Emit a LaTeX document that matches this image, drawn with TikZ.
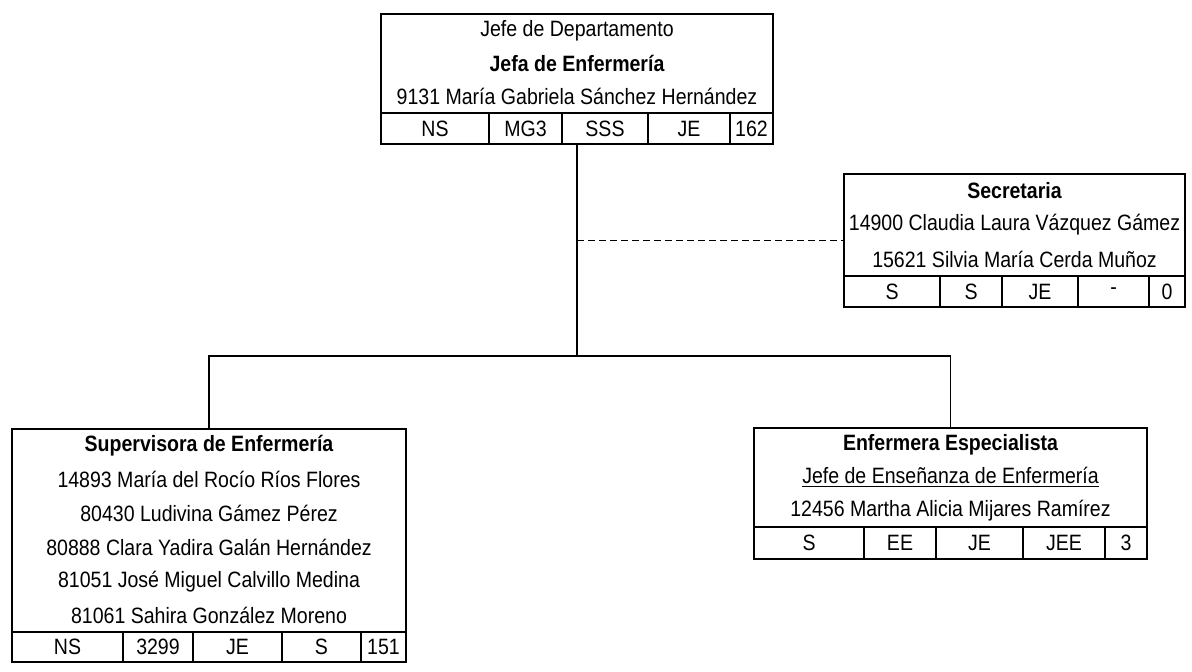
\documentclass[tikz,border=0pt]{standalone}
\usepackage{fontspec}
\setmainfont{Liberation Sans}[FakeStretch=0.88]
\usetikzlibrary{fit}
\tikzset{
  frame/.style={draw,line width=1pt,inner sep=0pt},
  rule/.style={line width=1pt},
  link/.style={line width=.9pt},
  staff/.style={link,dash pattern=on 3.5pt off 2pt},
}
\begin{document}
\begin{tikzpicture}[font=\fontsize{11.1}{13}\selectfont,x=.5pt,y=-.5pt]
\useasboundingbox (0,0) rectangle (1192,671);
% Jefa de Enfermeria
\node[frame,fit={(381,14) (773,144)}] (jefa) {};
\draw[rule] (381,113)--(773,113) (489,113)--(489,144) (562,113)--(562,144)
  (648,113)--(648,144) (730,113)--(730,144);
\node at (577,30.5) (jefa1) {Jefe de Departamento};
\node at (577,63.5) (jefa2) {\bfseries Jefa de Enfermería};
\node at (577,96.5) (jefa3) {9131 María Gabriela Sánchez Hernández};
\node at (435,128.5) (jefac1) {NS};\node at (525.5,128.5) (jefac2) {MG3};
\node at (605,128.5) (jefac3) {SSS};\node at (689,128.5) (jefac4) {JE};
\node at (751.5,128.5) (jefac5) {162};
% Secretaria
\node[frame,fit={(844,174) (1185,307)}] (secr) {};
\draw[rule] (844,276)--(1185,276) (940,276)--(940,307) (1002,276)--(1002,307)
  (1078,276)--(1078,307) (1149,276)--(1149,307);
\node at (1014.5,191) (secr1) {\bfseries Secretaria};
\node at (1014.5,225) (secr2) {14900 Claudia Laura Vázquez Gámez};
\node at (1014.5,259) (secr3) {15621 Silvia María Cerda Muñoz};
\node at (892,291.5) (secrc1) {S};\node at (971,291.5) (secrc2) {S};
\node at (1040,291.5) (secrc3) {JE};\node at (1113.5,291.5) (secrc4) {-};
\node at (1167,291.5) (secrc5) {0};
% Supervisora de Enfermeria
\node[frame,fit={(12,429) (406,662)}] (sup) {};
\draw[rule] (12,632)--(406,632) (123,632)--(123,662) (193,632)--(193,662)
  (282,632)--(282,662) (361,632)--(361,662);
\node at (209,446) (sup1) {\bfseries Supervisora de Enfermería};
\node at (209,479.7) (sup2) {14893 María del Rocío Ríos Flores};
\node at (209,513.5) (sup3) {80430 Ludivina Gámez Pérez};
\node at (209,547.4) (sup4) {80888 Clara Yadira Galán Hernández};
\node at (209,581.2) (sup5) {81051 José Miguel Calvillo Medina};
\node at (209,615) (sup6) {81061 Sahira González Moreno};
\node at (67.5,647) (supc1) {NS};\node at (158,647) (supc2) {3299};
\node at (237.5,647) (supc3) {JE};\node at (321.5,647) (supc4) {S};
\node at (383.5,647) (supc5) {151};
% Enfermera Especialista
\node[frame,fit={(754,428) (1147,559)}] (esp) {};
\draw[rule] (754,527)--(1147,527) (864,527)--(864,559) (936,527)--(936,559)
  (1023,527)--(1023,559) (1105,527)--(1105,559);
\node at (950.5,444.5) (esp1) {\bfseries Enfermera Especialista};
\node at (950.5,477.5) (esp2) {\underline{Jefe de Enseñanza de Enfermería}};
\node at (950.5,510.5) (esp3) {12456 Martha Alicia Mijares Ramírez};
\node at (809,543) (espc1) {S};\node at (900,543) (espc2) {EE};
\node at (979.5,543) (espc3) {JE};\node at (1064,543) (espc4) {JEE};
\node at (1126,543) (espc5) {3};
% lineas
\coordinate (bus) at (577,356);
\draw[link] (jefa.south) -- (bus);
\draw[link] (sup.north) |- (bus) -| (esp.north);
\draw[staff] (jefa.south |- secr.west) -- (secr.west);
\end{tikzpicture}
\end{document}
